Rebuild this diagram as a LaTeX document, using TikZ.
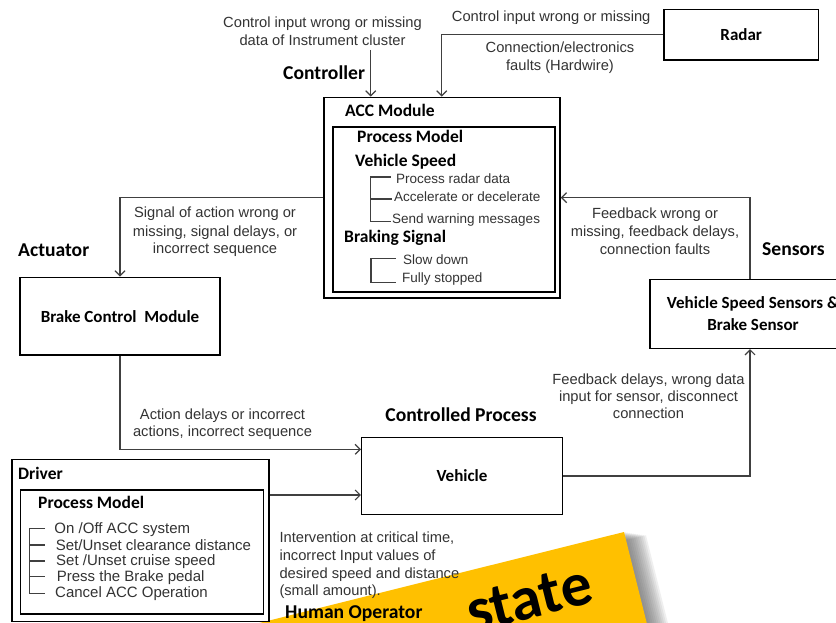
\documentclass[tikz,border=0pt]{standalone}
\usepackage{fontspec}
\setmainfont{Liberation Sans}
\newfontfamily\carl{Carlito}
\usetikzlibrary{arrows.meta}
\definecolor{banneryellow}{HTML}{FFC000}
\tikzset{
 lbl/.style={font=\fontsize{14.7bp}{18bp}\selectfont, text=black!80, inner sep=0, anchor=base},
 lblw/.style={lbl, anchor=base west},
 head/.style={font=\carl\bfseries\fontsize{19.6bp}{23bp}\selectfont, inner sep=0, anchor=base west},
 headc/.style={head, anchor=base},
 sub/.style={font=\carl\bfseries\fontsize{17.5bp}{21bp}\selectfont, inner sep=0, anchor=base west},
 item/.style={font=\fontsize{13.5bp}{16bp}\selectfont, text=black!80, inner sep=0, anchor=base west},
 ditem/.style={font=\fontsize{15bp}{16bp}\selectfont, text=black!80, inner sep=0, anchor=base west},
 box/.style={draw=black, line width=1.5bp, inner sep=0, font=\carl\bfseries\fontsize{17bp}{21.6bp}\selectfont, align=center},
 frame/.style={draw=black, line width=1.5bp, inner sep=0},
 arr/.style={draw=black!75, line width=1.2bp, -{Straight Barb[length=5bp,width=10bp,line width=1.2bp]}},
 brk/.style={draw=black!75, line width=1.1bp},
 shadowlayer/.style={fill=black!60, opacity=0.1},
}
\begin{document}
\begin{tikzpicture}[x=1bp,y=-1bp]
\useasboundingbox (0,0) rectangle (836,623);
\fill[white] (0,0) rectangle (836,623);
\begin{scope}
\clip (0,0) rectangle (836,623);
% banner (background sticker) with soft shadow
\foreach \k in {1,...,11}{
  \pgfmathsetmacro{\dx}{2*\k}
  \pgfmathsetmacro{\dy}{0.3*\k}
  \fill[shadowlayer] (624+\dx,532+\dy) -- (-55+\dx,701.4+\dy) -- (-6.6+\dx,895.4+\dy) -- (672.4+\dx,726+\dy) -- cycle;
}
\fill[banneryellow] (624,532) -- (-55,701.4) -- (-6.6,895.4) -- (672.4,726) -- cycle;
\node[font=\carl\bfseries\fontsize{62bp}{70bp}\selectfont, inner sep=0, anchor=base west, rotate=14] (st) at (472,633) {state};

% boxes
\node[box, minimum width=154.3bp, minimum height=50.7bp] (radar) at (741.2,34.65) {Radar};
\node[frame, minimum width=236bp, minimum height=200.7bp] (acc) at (442,197.65) {};
\node[frame, minimum width=222bp, minimum height=165bp] (accpm) at (444,209.5) {};
\node[box, minimum width=200bp, minimum height=77.7bp] (brake) at (120,316.15) {Brake Control\ \ Module};
\node[box, minimum width=200.6bp, minimum height=76.6bp] (vehicle) at (462,476) {Vehicle};
\node[box, minimum width=206bp, minimum height=69bp] (sensor) at (753,313.8) {Vehicle Speed Sensors \&\\Brake Sensor};
\node[frame, minimum width=256.8bp, minimum height=162.4bp] (driver) at (140.4,540.5) {};
\node[frame, minimum width=242.6bp, minimum height=124bp] (drvpm) at (142,552) {};

% connectors
\coordinate (c1) at (370.7,50);
\draw[arr] (c1) -- (c1 |- acc.north);
\coordinate (c2) at (441.7,97.3);
\draw[arr] (radar.west) -| (c2 |- acc.north);
\draw[arr] (acc.west) -| (brake.north);
\draw[arr] ([xshift=-3bp]sensor.north) |- (acc.east);
\draw[arr] (brake.south) |- ([yshift=26.7bp]vehicle.west);
\path ([yshift=-19bp]vehicle.west) coordinate (v2);
\draw[arr] (driver.east |- v2) -- (v2);
\draw[arr] (vehicle.east) -| ([xshift=-3bp]sensor.south);

% headings
\node[head] (hctrl) at (283,80) {Controller};
\node[head] (hact) at (18,256.7) {Actuator};
\node[head] (hsens) at (762,255) {Sensors};
\node[headc] (hproc) at (461,421.7) {Controlled Process};
\node[head] (hhum) at (285,618.3) {Human Operator};

% top labels
\node[lbl] (t1a) at (322.5,28) {Control input wrong or missing};
\node[lbl] (t1b) at (322.5,46) {data of Instrument cluster};
\node[lblw] (t2) at (451.7,21.7) {Control input wrong or missing};
\node[lbl] (t3a) at (560,53) {Connection/electronics};
\node[lbl] (t3b) at (560,71) {faults (Hardwire)};

% ACC module contents
\node[sub] (accT) at (345,116.7) {ACC Module};
\node[sub] (accP) at (357,142.7) {Process Model};
\node[sub] (accV) at (355,166.7) {Vehicle Speed};
\node[item] (i1) at (396,184) {Process radar data};
\node[item] (i2) at (394,202) {Accelerate or decelerate};
\node[item] (i3) at (392,224) {Send warning messages};
\node[sub] (accB) at (344,243) {Braking Signal};
\node[item] (i4) at (403,264) {Slow down};
\node[item] (i5) at (402,282) {Fully stopped};
\draw[brk] (390.7,177) -- (370.7,177) -- (370.7,221.7) -- (390.7,221.7);
\draw[brk] (370.7,199) -- (391.7,199);
\draw[brk] (395.7,258.3) -- (371,258.3) -- (371,282.3) -- (395.7,282.3);

% actuator labels
\node[lbl] (s1) at (215,218) {Signal of action wrong or};
\node[lbl] (s2) at (215,236.7) {missing, signal delays, or};
\node[lbl] (s3) at (215,253) {incorrect sequence};

% feedback labels
\node[lbl] (f1) at (655,219) {Feedback wrong or};
\node[lbl] (f2) at (655,236.7) {missing, feedback delays,};
\node[lbl] (f3) at (655,254) {connection faults};
\node[lbl] (g1) at (648.5,384) {Feedback delays, wrong data};
\node[lbl] (g2) at (648.5,401.7) {input for sensor, disconnect};
\node[lbl] (g3) at (648.5,418.3) {connection};

% action labels
\node[lbl] (a1) at (222.5,419.3) {Action delays or incorrect};
\node[lbl] (a2) at (222.5,436.7) {actions, incorrect sequence};

% driver contents
\node[sub] (drT) at (18,479.3) {Driver};
\node[sub] (drP) at (38,508.3) {Process Model};
\node[ditem] (d1) at (54.3,533.3) {On /Off ACC system};
\node[ditem] (d2) at (55.7,550) {Set/Unset clearance distance};
\node[ditem] (d3) at (56,565) {Set /Unset cruise speed};
\node[ditem] (d4) at (56.7,581) {Press the Brake pedal};
\node[ditem] (d5) at (55,597.7) {Cancel ACC Operation};
\draw[brk] (45,528.7) -- (29.3,528.7) -- (29.3,593.3) -- (45,593.3);
\foreach \yy in {545,561,576.7}{\draw[brk] (29.3,\yy) -- (45,\yy);}

% intervention labels
\node[lblw] (n1) at (279.3,542.7) {Intervention at critical time,};
\node[lblw] (n2) at (279.3,560) {incorrect Input values of};
\node[lblw] (n3) at (279.3,578.3) {desired speed and distance};
\node[lblw] (n4) at (279.3,595) {(small amount).};
\end{scope}
\end{tikzpicture}
\end{document}
